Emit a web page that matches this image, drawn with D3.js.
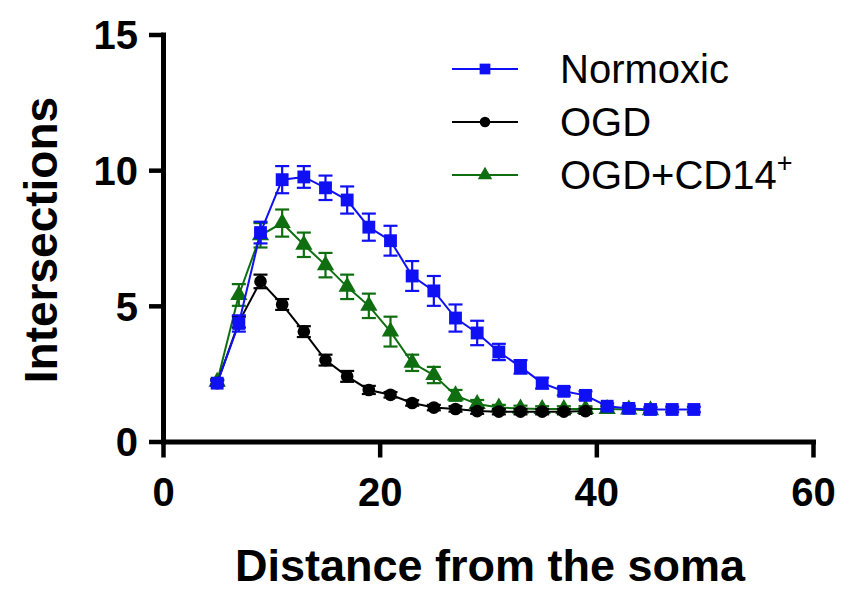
<!DOCTYPE html>
<html>
<head>
<meta charset="utf-8">
<script src="https://cdn.jsdelivr.net/npm/d3@7"></script>
<style>
  html, body { margin: 0; padding: 0; background: #fff; }
  svg { display: block; font-family: Arial, "Liberation Sans", sans-serif; }
</style>
</head>
<body>
<div id="app"></div>
<script>
// distances from soma (x), one array per group
const distNormoxic = [5, 7, 9, 11, 13, 15, 17, 19, 21, 23, 25, 27, 29, 31, 33, 35, 37, 39, 41, 43, 45, 47, 49];
const distOGD      = [5, 7, 9, 11, 13, 15, 17, 19, 21, 23, 25, 27, 29, 31, 33, 35, 37, 39];
const distCD14     = [5, 7, 9, 11, 13, 15, 17, 19, 21, 23, 25, 27, 29, 31, 33, 35, 37, 39, 41, 43, 45];

const normoxic    = [2.15, 4.35, 7.7, 9.65, 9.75, 9.35, 8.9, 7.9, 7.4, 6.1, 5.55, 4.55, 4.0, 3.3, 2.75, 2.15, 1.85, 1.7, 1.3, 1.22, 1.18, 1.18, 1.18];
const normoxicErr = [0.1, 0.3, 0.4, 0.5, 0.4, 0.45, 0.5, 0.5, 0.55, 0.55, 0.55, 0.5, 0.45, 0.3, 0.25, 0.2, 0.15, 0.15, 0.1, 0.1, 0.1, 0.1, 0.1];

const ogd    = [2.15, 4.4, 5.9, 5.05, 4.05, 3.0, 2.4, 1.9, 1.72, 1.42, 1.25, 1.2, 1.12, 1.1, 1.1, 1.1, 1.1, 1.12];
const ogdErr = [0.1, 0.2, 0.25, 0.2, 0.2, 0.2, 0.2, 0.15, 0.1, 0.1, 0.1, 0.1, 0.1, 0.1, 0.1, 0.1, 0.1, 0.1];

const cd14    = [2.2, 5.4, 7.6, 8.05, 7.25, 6.5, 5.7, 5.0, 4.05, 2.9, 2.45, 1.7, 1.38, 1.25, 1.22, 1.2, 1.2, 1.2, 1.2, 1.18, 1.15];
const cd14Err = [0.1, 0.4, 0.45, 0.5, 0.45, 0.45, 0.45, 0.45, 0.55, 0.3, 0.3, 0.2, 0.15, 0.1, 0.1, 0.1, 0.1, 0.1, 0.1, 0.1, 0.1];

const xTicks = [0, 20, 40, 60];
const yTicks = [0, 5, 10, 15];

const width = 844;
const height = 590;
const margin = { top: 34.5, right: 31, bottom: 148.5, left: 163 };

// group table built from the arrays (drawn in this order: green, black, blue on top)
const groups = [
    { name: "OGD+CD14", sup: "+", color: "#0f6e0f", shape: d3.symbolTriangle, size: 130, xs: distCD14, ys: cd14, err: cd14Err },
    { name: "OGD", color: "#000000", shape: d3.symbolCircle, size: 125, xs: distOGD, ys: ogd, err: ogdErr },
    { name: "Normoxic", color: "#1010f5", shape: d3.symbolSquare, size: 165, xs: distNormoxic, ys: normoxic, err: normoxicErr },
];
const legendOrder = ["Normoxic", "OGD", "OGD+CD14"];

const x = d3.scaleLinear().domain([0, 60]).range([margin.left, width - margin.right]);
const y = d3.scaleLinear().domain([0, 15]).range([height - margin.bottom, margin.top]);

const svg = d3.select("#app")
    .append("svg")
    .attr("width", width)
    .attr("height", height);

svg.append("rect").attr("width", width).attr("height", height).attr("fill", "#fff");

// --- axes ---
const xAxis = svg.append("g")
    .attr("transform", `translate(0,${y(0)})`)
    .call(d3.axisBottom(x).tickValues(xTicks).tickSize(16).tickSizeOuter(0).tickPadding(20));

const yAxis = svg.append("g")
    .attr("transform", `translate(${x(0)},0)`)
    .call(d3.axisLeft(y).tickValues(yTicks).tickSize(14).tickSizeOuter(0).tickPadding(11));

[xAxis, yAxis].forEach(ax => {
    ax.select(".domain").attr("stroke", "#000").attr("stroke-width", 5).attr("stroke-linecap", "square");
    ax.selectAll(".tick line").attr("stroke", "#000").attr("stroke-width", 4.5);
    ax.selectAll(".tick text")
        .attr("fill", "#000")
        .attr("font-size", 40)
        .attr("font-weight", "bold")
        .attr("font-family", "Arial, 'Liberation Sans', sans-serif");
});
yAxis.selectAll(".tick text").attr("dy", "0.36em");

svg.append("text")
    .attr("x", 490)
    .attr("y", 581)
    .attr("text-anchor", "middle")
    .attr("font-size", 45)
    .attr("font-weight", "bold")
    .text("Distance from the soma");

svg.append("text")
    .attr("transform", "translate(57,240) rotate(-90)")
    .attr("text-anchor", "middle")
    .attr("font-size", 46)
    .attr("font-weight", "bold")
    .text("Intersections");

// --- series ---
const line = d3.line().x(d => x(d.x)).y(d => y(d.y));

groups.forEach(g => {
    const pts = g.xs.map((v, i) => ({ x: v, y: g.ys[i], e: g.err[i] }));
    const layer = svg.append("g");

    layer.append("path")
        .datum(pts)
        .attr("fill", "none")
        .attr("stroke", g.color)
        .attr("stroke-width", 2)
        .attr("d", line);

    const bars = layer.selectAll(".err")
        .data(pts)
        .join("g")
        .attr("stroke", g.color)
        .attr("stroke-width", 2.2);
    bars.append("line")
        .attr("x1", d => x(d.x)).attr("x2", d => x(d.x))
        .attr("y1", d => y(d.y - d.e)).attr("y2", d => y(d.y + d.e));
    bars.append("line")
        .attr("x1", d => x(d.x) - 7).attr("x2", d => x(d.x) + 7)
        .attr("y1", d => y(d.y + d.e)).attr("y2", d => y(d.y + d.e));
    bars.append("line")
        .attr("x1", d => x(d.x) - 7).attr("x2", d => x(d.x) + 7)
        .attr("y1", d => y(d.y - d.e)).attr("y2", d => y(d.y - d.e));

    layer.selectAll(".pt")
        .data(pts)
        .join("path")
        .attr("transform", d => `translate(${x(d.x)},${y(d.y)})`)
        .attr("d", d3.symbol().type(g.shape).size(g.size))
        .attr("fill", g.color);
});

// --- legend ---
const legend = svg.append("g");
legendOrder.forEach((name, i) => {
    const g = groups.find(d => d.name === name);
    const ly = 69 + i * 53;
    legend.append("line")
        .attr("x1", 452).attr("x2", 518)
        .attr("y1", ly).attr("y2", ly)
        .attr("stroke", g.color).attr("stroke-width", 2);
    legend.append("path")
        .attr("transform", `translate(485,${ly})`)
        .attr("d", d3.symbol().type(g.shape).size(g.size * 0.7))
        .attr("fill", g.color);
    const t = legend.append("text")
        .attr("x", 560)
        .attr("y", ly + 14)
        .attr("font-size", 40)
        .attr("fill", "#000")
        .text(g.name);
    if (g.sup) {
        t.append("tspan")
            .attr("dy", -17)
            .attr("font-size", 27)
            .text(g.sup);
    }
});
</script>
</body>
</html>
